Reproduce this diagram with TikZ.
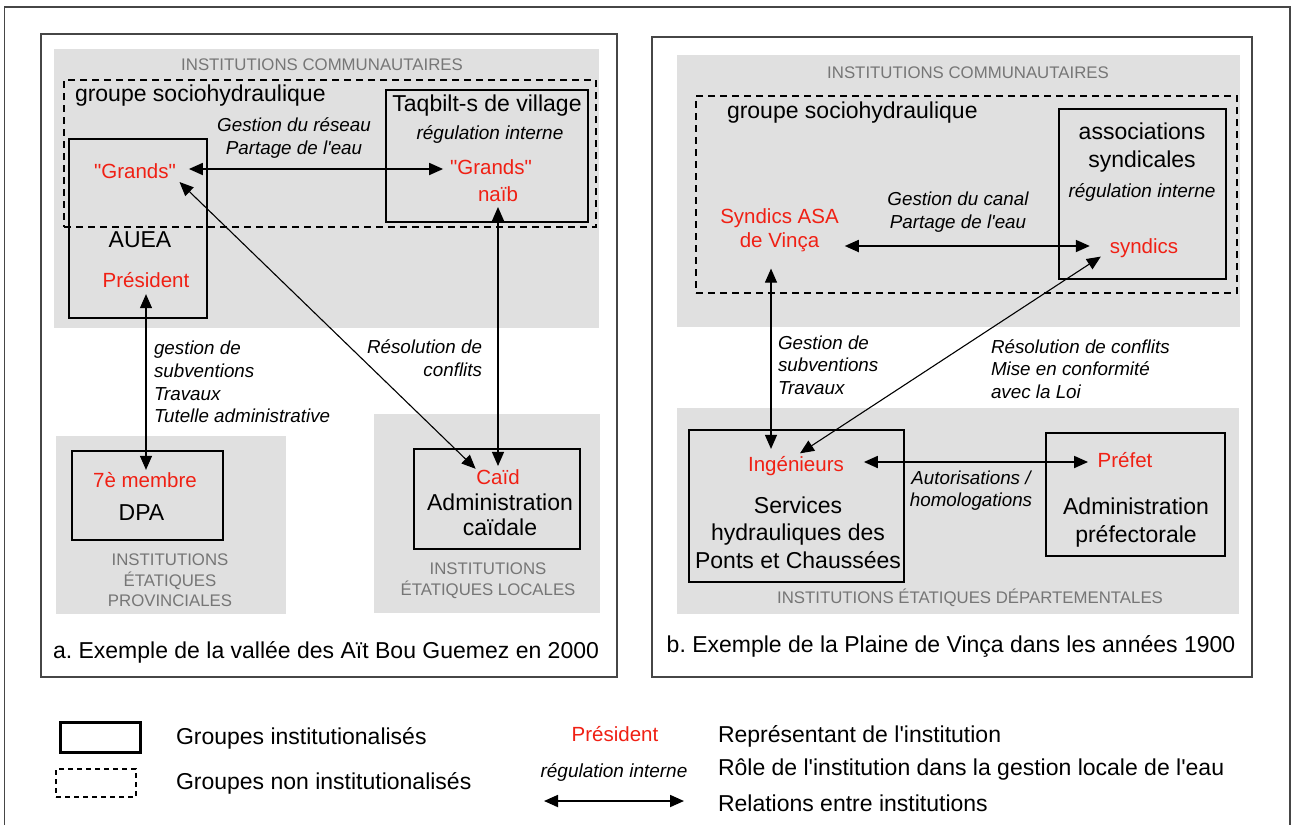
\documentclass[tikz,border=0pt]{standalone}
\usepackage{fontspec}
\setmainfont{Liberation Sans}
\usetikzlibrary{arrows.meta,calc}
\definecolor{repc}{RGB}{240,32,20}
\definecolor{bgc}{RGB}{224,224,224}
\definecolor{instg}{RGB}{118,118,118}
\definecolor{frm}{RGB}{70,70,70}
\newcommand{\sq}{\textquotesingle}
\newcommand{\dq}{\textquotedbl}
\frenchspacing
\begin{document}
\begin{tikzpicture}[x=1pt,y=-1pt,
  every node/.style={inner sep=0pt,outer sep=0pt},
  gbg/.style={fill=bgc,draw=none},
  sbox/.style={draw=black,line width=2.6pt},
  dbox/.style={draw=black,line width=2pt,dash pattern=on 7pt off 5pt},
  panel/.style={draw=frm,line width=1.5pt},
  big/.style={font=\fontsize{23}{27.5}\selectfont,align=center},
  repr/.style={text=repc,font=\fontsize{20.5}{24}\selectfont,align=center},
  role/.style={font=\fontsize{19}{22.7}\selectfont\itshape,align=center},
  lab/.style={font=\fontsize{18.8}{22.7}\selectfont\itshape},
  inst/.style={text=instg,font=\fontsize{16.8}{20.5}\selectfont,align=center},
  capt/.style={font=\fontsize{23}{27}\selectfont},
  rel/.style={{Triangle[length=14pt,width=12pt]}-{Triangle[length=14pt,width=12pt]},line width=1.1pt},
  hrel/.style={line width=1.8pt}]
\useasboundingbox (0,0) rectangle (1292,825);
\fill[white] (0,0) rectangle (1292,825);
% outer frame
\draw[frm,line width=1.5pt] (4.5,825) -- (4.5,7) -- (1290,7) -- (1290,825);

% ---------------- panel a ----------------
\node[panel,minimum width=576pt,minimum height=643pt] (frameA) at (329,355.5) {};
\node[gbg,minimum width=545pt,minimum height=279pt] (grayA1) at (326.5,188.5) {};
\node[gbg,minimum width=230pt,minimum height=178pt] (grayA2) at (171,525) {};
\node[gbg,minimum width=226pt,minimum height=199pt] (grayA3) at (487,513.5) {};
\node[sbox,minimum width=138pt,minimum height=179pt] (aueaBox) at (138,228.5) {};
\node[sbox,minimum width=202pt,minimum height=132pt] (taqBox) at (487,156) {};
\node[dbox,minimum width=532pt,minimum height=147pt] (dashA) at (330,153.5) {};
\node[sbox,minimum width=151pt,minimum height=89pt] (dpaBox) at (147.5,495.5) {};
\node[sbox,minimum width=166pt,minimum height=100pt] (caidBox) at (497,499) {};

\node[inst] (instA1) at (322,65) {INSTITUTIONS COMMUNAUTAIRES};
\node[big,anchor=west] (grpA) at (75,96) {groupe sociohydraulique};
\node[repr] (grA) at (135,171) {\dq Grands\dq};
\node[big] (auea) at (140,240) {AUEA};
\node[repr] (pres) at (146,280) {Président};
\node[big] (taqT) at (487,106) {Taqbilt-s de village};
\node[role] (regA) at (490,134) {régulation interne};
\node[repr] (grB) at (491,167) {\dq Grands\dq};
\node[repr] (naib) at (498,194) {naïb};
\node[lab,align=center] (lab1) at (294,138) {Gestion du réseau\\Partage de l\sq eau};
\node[lab,align=left,anchor=west] (lab2) at (154,382) {gestion de\\subventions\\Travaux\\Tutelle administrative};
\node[lab,align=right,anchor=east] (lab3) at (482,358) {Résolution de\\conflits};
\node[repr] (mem7) at (145,480) {7è membre};
\node[big] (dpa) at (141.5,513) {DPA};
\node[inst] (instA2) at (170,580.5) {INSTITUTIONS\\ÉTATIQUES\\PROVINCIALES};
\node[repr] (caid) at (498,477) {Caïd};
\node[big,font=\fontsize{23}{25}\selectfont] (admA) at (500,514.5) {Administration\\caïdale};
\node[inst] (instA3) at (488,580.5) {INSTITUTIONS\\ÉTATIQUES LOCALES};
\node[capt] (capA) at (326,652) {a. Exemple de la vallée des Aït Bou Guemez en 2000};

\draw[rel,hrel,shorten <=13pt,shorten >=7pt] ($(grA.east)+(0,-2)$) -- ($(grA.east -| grB.west)+(0,-2)$);
\draw[rel,shorten <=5pt,shorten >=1pt] (grA.south east) -- (caid.north west);
\draw[rel,shorten <=5.5pt,shorten >=3.5pt] (naib.south) -- (naib.south |- caid.north);
\draw[rel,shorten <=6.5pt,shorten >=2.5pt] (pres.south) -- (pres.south |- mem7.north);

% ---------------- panel b ----------------
\node[panel,minimum width=600pt,minimum height=640pt] (frameB) at (952,357) {};
\node[gbg,minimum width=563pt,minimum height=272pt] (grayB1) at (958.5,191) {};
\node[gbg,minimum width=562pt,minimum height=206pt] (grayB2) at (958,511) {};
\node[dbox,minimum width=541pt,minimum height=197pt] (dashB) at (966.5,194.5) {};
\node[sbox,minimum width=167pt,minimum height=170pt] (assoBox) at (1142.5,194) {};
\node[sbox,minimum width=215pt,minimum height=152pt] (servBox) at (796.5,506) {};
\node[sbox,minimum width=179pt,minimum height=123pt] (prefBox) at (1135.5,494.5) {};

\node[inst] (instB1) at (968,73) {INSTITUTIONS COMMUNAUTAIRES};
\node[big,anchor=west] (grpB) at (727,113) {groupe sociohydraulique};
\node[big,font=\fontsize{23}{28}\selectfont] (assoT) at (1142,148) {associations\\syndicales};
\node[role] (regB) at (1142,192) {régulation interne};
\node[repr] (syn) at (1144,248) {syndics};
\node[repr] (synA) at (779.5,230) {Syndics ASA\\de Vinça};
\node[lab,align=center] (lab4) at (958,212) {Gestion du canal\\Partage de l\sq eau};
\node[lab,align=left,anchor=west] (lab5) at (778,365) {Gestion de\\subventions\\Travaux};
\node[lab,align=left,anchor=west] (lab6) at (991,369) {Résolution de conflits\\Mise en conformité\\avec la Loi};
\node[repr] (ing) at (796,466) {Ingénieurs};
\node[big] (servT) at (798,532.5) {Services\\hydrauliques des\\Ponts et Chaussées};
\node[repr] (prefT) at (1125,460) {Préfet};
\node[big,font=\fontsize{23}{28}\selectfont] (admB) at (1136,523) {Administration\\préfectorale};
\node[lab,align=center] (lab7) at (971,490.5) {Autorisations /\\homologations};
\node[inst] (instB2) at (970,598) {INSTITUTIONS ÉTATIQUES DÉPARTEMENTALES};
\node[capt] (capB) at (951,646) {b. Exemple de la Plaine de Vinça dans les années 1900};

\draw[rel,hrel,shorten <=6pt,shorten >=20pt] ($(synA.east |- syn.west)+(0,-2)$) -- ($(syn.west)+(0,-2)$);
\draw[rel,shorten <=17pt,shorten >=7.4pt] ($(synA.south)+(-8.5,0)$) -- ($(synA.south |- ing.north)+(-8.5,0)$);
\draw[rel] ($(syn.south west)+(-9,-1)$) -- ($(ing.north)+(4,-3)$);
\draw[rel,hrel,shorten <=20pt,shorten >=9.6pt] ($(ing.east)+(0,-4)$) -- ($(ing.east -| prefT.west)+(0,-4)$);

% ---------------- legend ----------------
\node[draw=black,line width=3pt,minimum width=80pt,minimum height=30pt] (lgSolid) at (100,737) {};
\node[draw=black,line width=1.5pt,dash pattern=on 5pt off 4pt,minimum width=80pt,minimum height=28pt] (lgDash) at (96,783) {};
\node[capt,anchor=west] (lgT1) at (176,738) {Groupes institutionalisés};
\node[capt,anchor=west] (lgT2) at (176,783) {Groupes non institutionalisés};
\node[repr] (lgPres) at (615,734) {Président};
\node[role] (lgReg) at (614,772) {régulation interne};
\coordinate (lgA1) at (544,801);
\coordinate (lgA2) at (684,801);
\draw[rel,hrel] (lgA1) -- (lgA2);
\node[capt,anchor=west] (lgT3) at (718,736) {Représentant de l\sq institution};
\node[capt,anchor=west] (lgT4) at (718,770) {Rôle de l\sq institution dans la gestion locale de l\sq eau};
\node[capt,anchor=west] (lgT5) at (718,803) {Relations entre institutions};
\end{tikzpicture}
\end{document}
